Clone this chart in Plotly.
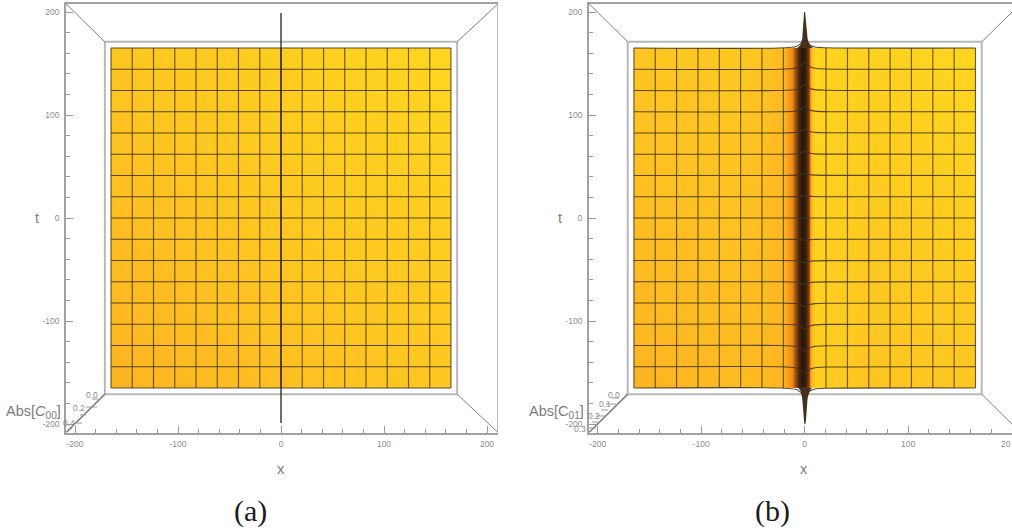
import plotly.graph_objects as go

W, H = 1012, 530

GRID = [-165, -144.4, -123.8, -103.1, -82.5, -61.9, -41.3, -20.6, 0,
        20.6, 41.3, 61.9, 82.5, 103.1, 123.8, 144.4, 165]
MAJOR_TICKS = [-200, -100, 0, 100, 200]
MAJOR_LABELS = ["-200", "-100", "0", "100", "200"]
MINOR_TICKS = [-180, -160, -140, -120, -80, -60, -40, -20, 20, 40, 60, 80, 120, 140, 160, 180]

# surface shade tables (0 = dark brown, 1 = bright yellow)
A_X = [-165, -164.8, 0, 164.8, 165]
A_T = [-165, -164.8, 0, 164.8, 165]
A_LOW = [0.76, 0.76, 0.83, 0.89, 0.89]
A_MID = [0.82, 0.82, 0.90, 0.94, 0.94]
A_TOP = [0.88, 0.88, 0.94, 1.00, 1.00]
A_Z = [A_LOW, A_LOW, A_MID, A_TOP, A_TOP]

B_X = [-165, -164.8, -60, -21, -16, -12, -8.5, -6, -3, 0, 1.5, 3.5, 5, 7, 10, 20, 60, 164.8, 165]
B_LOW = [0.76, 0.76, 0.8, 0.77, 0.64, 0.55, 0.33, 0.12, 0.0, 0.03, 0.12, 0.32, 0.56, 0.8, 0.95, 0.93, 0.87, 0.89, 0.89]
B_MID = [0.82, 0.82, 0.85, 0.79, 0.64, 0.55, 0.33, 0.12, 0.0, 0.03, 0.12, 0.32, 0.56, 0.82, 0.98, 0.96, 0.91, 0.94, 0.94]
B_TOP = [0.88, 0.88, 0.9, 0.81, 0.64, 0.55, 0.33, 0.12, 0.0, 0.03, 0.12, 0.32, 0.56, 0.84, 1.0, 0.98, 0.96, 1.0, 1.0]
B_Z = [B_LOW, B_LOW, B_MID, B_TOP, B_TOP]

# mesh row bend for panel (b): t offset at each BEND_X
BEND_X = [-165, -25, -8, -3, 1.5, 5, 10, 20, 165]
ROW_BEND = [
    [0, 0, -1.5, -5, -8, -3, -1, -0.3, 0],
    [0, 0, -1.2, -4, -6.5, -2.5, -1, -0.3, 0],
    [0, 0, -1, -3.5, -5.5, -2, -0.8, -0.2, 0],
    [0, 0, -0.8, -3, -5, -1.8, -0.7, -0.2, 0],
    [0, 0, -0.7, -2.5, -4, -1.5, -0.6, -0.2, 0],
    [0, 0, -0.5, -2, -3, -1, -0.4, -0.1, 0],
    [0, 0, -0.3, -1.2, -2, -0.8, -0.3, -0.1, 0],
    [0, 0, -0.2, -0.6, -1, -0.4, -0.2, 0, 0],
    [0, 0, 0, 0, 0, 0, 0, 0, 0],
    [0, 0, 0.2, 0.6, 1, 0.4, 0.2, 0, 0],
    [0, 0, 0.3, 1.2, 2, 0.8, 0.3, 0.1, 0],
    [0, 0, 0.5, 2, 3, 1, 0.4, 0.1, 0],
    [0, 0, 0.7, 2.5, 4, 1.5, 0.6, 0.2, 0],
    [0, 0, 0.8, 3, 5, 1.8, 0.7, 0.2, 0],
    [0, 0, 1, 3.5, 5.5, 2, 0.8, 0.2, 0],
    [0, 0, 1.2, 4, 6.5, 2.5, 1, 0.3, 0],
    [0, 0, 1.5, 5, 8, 3, 1, 0.3, 0],
]

# spike outlines, panel (b)
SPIKE_TOP_X = [-7, -4.2, -2.4, -1.7, -1.1, -0.6, 0.4, 0.9, 1.6, 2.8, 4.5, 8]
SPIKE_TOP_T = [165, 168, 174, 185, 195, 200, 200, 195, 185, 174, 168, 165]
SPIKE_BOT_X = [-6, -4, -2.4, -1.6, -1, -0.4, 0.6, 1.2, 1.9, 2.8, 4.5, 7]
SPIKE_BOT_T = [-165, -168, -175, -187, -197, -200, -200, -197, -187, -175, -168, -165]
# line along x = 0, panel (a)
LINE_A_OUTER_T = [199, 165, None, -165, -199]
LINE_A_INNER_T = [165, -165]

SHADES = [[0, "#2b180c"], [0.2, "#5a3010"], [0.4, "#a85a10"], [0.55, "#f08c14"],
          [0.7, "#fbab22"], [0.85, "#fec222"], [1, "#ffd61f"]]
MESH_V = "rgba(90,72,28,0.85)"
MESH_H = "rgba(70,55,32,0.9)"
GREY = "#8c8c8c"

fig = go.Figure()


def px(x_px):
    return x_px / W


def py(y_px):
    return 1 - y_px / H


def panel(xa, ya, hx, hz, bend):
    fig.add_trace(go.Heatmap(x=hx, y=A_T, z=hz, colorscale=SHADES, zmin=0, zmax=1,
                             zsmooth="best", showscale=False, hoverinfo="skip",
                             xaxis=xa, yaxis=ya))
    for g in GRID:
        if bend and g == 0:
            continue
        fig.add_trace(go.Scatter(x=[g, g], y=[-165, 165], mode="lines", xaxis=xa, yaxis=ya,
                                 line=dict(color=MESH_V, width=1.2), hoverinfo="skip"))
    for i, g in enumerate(GRID):
        if bend:
            fig.add_trace(go.Scatter(x=BEND_X, y=[g + o for o in ROW_BEND[i]], mode="lines",
                                     xaxis=xa, yaxis=ya, hoverinfo="skip",
                                     line=dict(color=MESH_H, width=1.1, shape="spline", smoothing=0.6)))
        else:
            fig.add_trace(go.Scatter(x=[-165, 165], y=[g, g], mode="lines", xaxis=xa, yaxis=ya,
                                     line=dict(color=MESH_H, width=1.1), hoverinfo="skip"))


panel("x", "y", A_X, A_Z, False)
panel("x2", "y2", B_X, B_Z, True)

fig.add_trace(go.Scatter(x=[0, 0, None, 0, 0], y=LINE_A_OUTER_T, mode="lines", xaxis="x", yaxis="y",
                         line=dict(color="rgba(45,40,40,0.9)", width=1.5), hoverinfo="skip"))
fig.add_trace(go.Scatter(x=[0, 0], y=LINE_A_INNER_T, mode="lines", xaxis="x", yaxis="y",
                         line=dict(color="rgba(70,48,22,0.85)", width=2), hoverinfo="skip"))
for sx, st in [(SPIKE_TOP_X, SPIKE_TOP_T), (SPIKE_BOT_X, SPIKE_BOT_T)]:
    fig.add_trace(go.Scatter(x=sx, y=st, mode="lines", fill="toself", fillcolor="#46301c",
                             xaxis="x2", yaxis="y2", line=dict(color="#46301c", width=0),
                             hoverinfo="skip"))


def axis(domain, rng, anchor):
    return dict(domain=domain, range=rng, anchor=anchor, showgrid=False, zeroline=False,
                showline=True, linecolor="#a2a2a2", linewidth=1.5,
                tickmode="array", tickvals=MAJOR_TICKS, ticktext=MAJOR_LABELS,
                ticks="inside", ticklen=7, tickcolor="#9a9a9a", tickwidth=1,
                ticklabelstandoff=3,
                minor=dict(tickmode="array", tickvals=MINOR_TICKS, ticks="inside", ticklen=4,
                           tickcolor="#9a9a9a", tickwidth=1, showgrid=False),
                tickfont=dict(family="Liberation Sans", size=8.5, color=GREY),
                fixedrange=True)


ydom = [py(432.5), py(3.5)]
yrange = [(218 - 432.5) / 1.03, (218 - 3.5) / 1.03]
fig.update_layout(
    width=W, height=H, margin=dict(l=0, r=0, t=0, b=0),
    paper_bgcolor="white", plot_bgcolor="white", showlegend=False,
    xaxis=dict(axis([px(66), px(498)], [(66 - 281) / 1.03, (498 - 281) / 1.03], "y"), mirror=True),
    yaxis=axis(ydom, yrange, "x"),
    xaxis2=dict(axis([px(589), 1], [(589 - 804.7) / 1.035, (1012 - 804.7) / 1.035], "y2"), mirror=True),
    yaxis2=axis(ydom, yrange, "x2"),
)

shapes = []
INNER = "#b8b8b8"
DIAG = "#7e7e7e"
for xr, yr, xo0, xo1 in [("x", "y", -208.7, 210.7), ("x2", "y2", -208.4, 208.4)]:
    shapes.append(dict(type="rect", xref=xr, yref=yr, x0=-171, x1=171, y0=-171, y1=171,
                       line=dict(color=INNER, width=2), layer="below"))
    for cx, cy, ox, oy in [(-171, 171, xo0, 208), (171, 171, xo1, 208),
                           (-171, -171, xo0, -208.3), (171, -171, xo1, -208.3)]:
        shapes.append(dict(type="line", xref=xr, yref=yr, x0=cx, y0=cy, x1=ox, y1=oy,
                           line=dict(color=DIAG, width=1.5 if (cx < 0 and cy < 0) else 1), layer="below"))
# right side of the outer box in panel (a)
shapes.append(dict(type="line", xref="x", yref="y", x0=210.7, x1=210.7, y0=-208.3, y1=208,
                   line=dict(color="#a2a2a2", width=1.5), layer="below"))
# depth-axis ticks (pixel positions along the corner edge)
for x0, x1, y0 in [(92, 98, 399), (86, 97, 407), (80, 86, 415), (74, 82, 423), (68, 72, 429)]:
    shapes.append(dict(type="line", xref="paper", yref="paper", x0=px(x0), x1=px(x1), y0=py(y0), y1=py(y0),
                       line=dict(color="#9a9a9a", width=1)))
for x0, x1, y0 in [(612, 619, 398), (606, 616, 404), (601, 608, 410), (596, 606, 416), (592, 598, 422), (589, 596, 428)]:
    shapes.append(dict(type="line", xref="paper", yref="paper", x0=px(x0), x1=px(x1), y0=py(y0), y1=py(y0),
                       line=dict(color="#9a9a9a", width=1)))
fig.update_layout(shapes=shapes)

ann = []


def note(text, x, y, size, color=GREY, family="Liberation Sans"):
    ann.append(dict(text=text, x=px(x), y=py(y), xref="paper", yref="paper", showarrow=False,
                    xanchor="center", yanchor="middle", font=dict(family=family, size=size, color=color)))


for t, x, y in [("0.0", 92, 395), ("0.2", 79, 408), ("0.4", 69, 423),
                ("0.0", 614, 395), ("0.1", 605, 404), ("0.2", 594, 416), ("0.3", 580, 429),
                ("20", 1006, 444)]:
    note(t, x, y, 8.5)
note("Abs[<i>C</i><sub>00</sub>]", 33, 412, 14.5, "#7c7c7c")
note("Abs[C<sub>01</sub>]", 556, 412, 14.5, "#7c7c7c")
note("t", 37, 218, 14.5, "#7c7c7c")
note("t", 560, 218, 14.5, "#7c7c7c")
note("x", 281, 469, 14.5, "#7c7c7c")
note("x", 804, 469, 14.5, "#7c7c7c")
note("(a)", 250, 511, 30, "#1c1c1c", "Liberation Serif")
note("(b)", 772, 511, 30, "#1c1c1c", "Liberation Serif")
fig.update_layout(annotations=ann)

fig.write_html("out.html", config={"displayModeBar": False},
               post_script="document.body.style.margin='0';")
